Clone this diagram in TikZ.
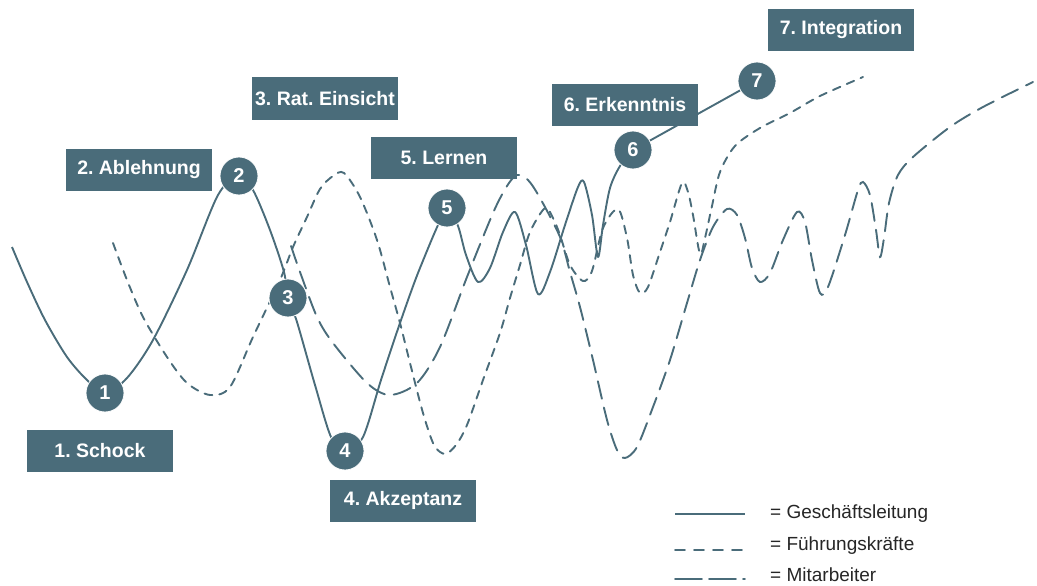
\documentclass[tikz,border=0pt]{standalone}
\usepackage{fontspec}
\setmainfont{Liberation Sans}
\definecolor{slate}{RGB}{74,108,122}
\frenchspacing

\begin{document}
\begin{tikzpicture}[x=1pt, y=-1pt,
    gl/.style={slate, line width=1.9pt, line join=round},
    fk/.style={slate, line width=1.9pt, line cap=round, dash pattern=on 8pt off 7pt},
    ma/.style={slate, line width=1.9pt, line cap=round, dash pattern=on 18pt off 9pt},
    phase/.style={fill=slate, text=white, minimum width=146pt, minimum height=42pt,
        inner sep=0pt, font=\fontsize{19.5}{22}\selectfont\bfseries},
    stage/.style={circle, fill=slate, draw=white, line width=0.8pt, text=white,
        minimum size=38pt, inner sep=0pt, font=\fontsize{20}{22}\selectfont\bfseries},
    legtext/.style={anchor=base west, text=black!85, inner sep=0pt,
        font=\fontsize{19}{22}\selectfont}]

    \useasboundingbox (0,0) rectangle (1037,586);

    % Stage points on the solid curve
    \coordinate (P1) at (105, 393);
    \coordinate (P2) at (239, 176);
    \coordinate (P3) at (288, 298);
    \coordinate (P4) at (345, 451);
    \coordinate (P5) at (447, 208);
    \coordinate (P6) at (633, 150);
    \coordinate (P7) at (757, 81);

    % Geschaeftsleitung (solid)
    \draw[gl] plot[smooth, tension=0.5] coordinates {
        (12,247) (27,282) (45,320) (67,357) (87,380) (P1)
        (127,378) (153,340) (187,270) (218,195) (P2)
        (253,190) (270,230) (284,272) (P3) (297,322) (315,385) (331,437) (P4)
        (363,437) (381,380) (400,323) (420,268) (P5)
        (458,226) (466,255) (478,282) (490,268) (503,232) (515,212)
        (526,245) (538,294) (550,272) (565,225) (578,187) (584,182)
        (592,215) (598,257) (603,225) (610,188) (620,166) (P6)};
    \draw[gl] (P6) -- (P7);

    % Fuehrungskraefte (short dashes)
    \draw[fk] plot[smooth, tension=0.5] coordinates {
        (113,243) (127,280) (143,317) (167,357) (187,383) (210,395) (230,387)
        (253,337) (280,280) (293,247) (307,217) (320,189) (333,176) (344,173)
        (360,197) (377,240) (390,287) (400,323) (410,363) (423,413) (434,445) (445,454)
        (456,445) (467,425) (483,380) (500,333) (510,298) (520,265) (530,232)
        (545,208) (553,218) (560,235) (570,265) (583,281) (592,271) (603,228)
        (618,209) (627,238) (633,275) (640,293) (648,287) (660,252) (670,222)
        (682,183) (688,192) (693,215) (700,254) (705,238) (712,206) (720,172)
        (735,146) (760,128) (790,113) (820,96) (863,77)};

    % Mitarbeiter (long dashes)
    \draw[ma] plot[smooth, tension=0.5] coordinates {
        (291,246) (300,272) (317,317) (333,343) (367,383) (390,395) (417,383)
        (440,347) (467,277) (493,213) (507,186) (517,175) (528,180) (540,198)
        (560,237) (570,272) (580,307) (593,360) (607,420) (617,450) (625,458)
        (637,447) (653,407) (670,360) (687,303) (700,260) (713,227) (727,209)
        (737,215) (745,238) (752,268) (760,282) (770,273) (783,240) (797,212)
        (805,222) (812,260) (820,293) (828,287) (845,235) (858,190) (863,182)
        (870,195) (876,230) (880,257) (884,238) (889,203) (898,175) (913,157)
        (950,127) (983,107) (1033,82)};

    % Phase boxes
    \node[phase] (schock) at (100, 451) {1. Schock};
    \node[phase] (ablehnung) at (139, 170) {2. Ablehnung};
    \node[phase] (einsicht) at (325, 98.5) {3. Rat. Einsicht};
    \node[phase] (akzeptanz) at (403, 500.5) {4. Akzeptanz};
    \node[phase] (lernen) at (444, 157.5) {5. Lernen};
    \node[phase] (erkenntnis) at (625, 105) {6. Erkenntnis};
    \node[phase] (integration) at (841, 30) {7. Integration};

    % Stage circles
    \node[stage] (s1) at (P1) {1};
    \node[stage] (s2) at (P2) {2};
    \node[stage] (s3) at (P3) {3};
    \node[stage] (s4) at (P4) {4};
    \node[stage] (s5) at (P5) {5};
    \node[stage] (s6) at (P6) {6};
    \node[stage] (s7) at (P7) {7};

    % Legend
    \coordinate (L1a) at (675, 514);
    \coordinate (L1b) at (745, 514);
    \coordinate (L2a) at (675, 550);
    \coordinate (L2b) at (745, 550);
    \coordinate (L3a) at (675, 579);
    \coordinate (L3b) at (745, 579);
    \draw[gl] (L1a) -- (L1b);
    \draw[fk, dash pattern=on 10pt off 9pt] (L2a) -- (L2b);
    \draw[ma, dash pattern=on 27pt off 7pt] (L3a) -- (L3b);
    \node[legtext] (leg1) at (770, 518) {= Geschäftsleitung};
    \node[legtext] (leg2) at (770, 550) {= Führungskräfte};
    \node[legtext] (leg3) at (770, 581) {= Mitarbeiter};

\end{tikzpicture}
\end{document}
